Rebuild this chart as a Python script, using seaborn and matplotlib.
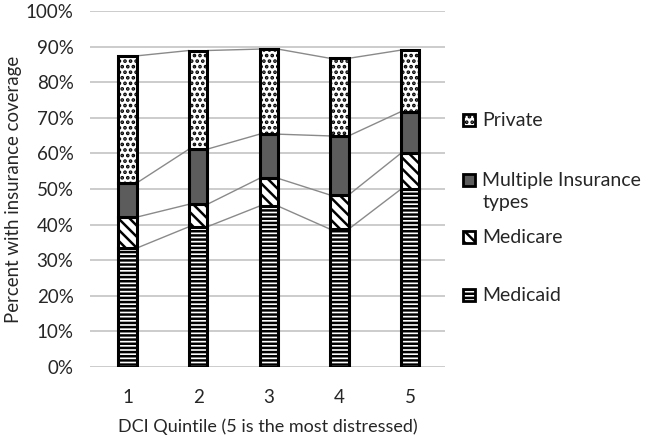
import matplotlib
matplotlib.use("Agg")
import matplotlib.pyplot as plt
from matplotlib.patches import Rectangle
import numpy as np
import pandas as pd
import seaborn as sns

# Data (percent of patients)
quintiles = ["1", "2", "3", "4", "5"]
medicaid = [33.4, 39.4, 45.2, 38.7, 49.9]
medicare = [8.7, 6.3, 7.8, 9.6, 10.1]
multiple = [9.6, 15.5, 12.4, 16.6, 11.7]
private = [35.7, 27.7, 23.9, 21.8, 17.3]

series_names = ["Medicaid", "Medicare", "Multiple Insurance\ntypes", "Private"]
series_values = [medicaid, medicare, multiple, private]
hatches = ["----", "\\\\\\", None, "..."]
fills = ["white", "white", "#5c5c5c", "white"]

sns.set_style("white")
plt.rcParams["font.family"] = ["Lato", "DejaVu Sans"]
plt.rcParams["hatch.linewidth"] = 1.8

text_color = "#262626"

fig = plt.figure(figsize=(6.49, 4.40), dpi=100)
ax = fig.add_axes([0.139, 0.166, 0.547, 0.809])

bar_w = 0.26
bottom = np.zeros(len(quintiles))
tops = []
for name, vals, hatch, fc in zip(series_names, series_values, hatches, fills):
    df = pd.DataFrame({"q": quintiles, "v": vals})
    sns.barplot(data=df, x="q", y="v", bottom=bottom, width=bar_w, color=fc,
                saturation=1, edgecolor="black", linewidth=2.2, hatch=hatch,
                ax=ax, zorder=3)
    bottom = bottom + np.array(vals)
    tops.append(bottom.copy())

# Series lines between bar tops
for top in tops:
    for i in range(len(quintiles) - 1):
        ax.plot([i + bar_w / 2, i + 1 - bar_w / 2], [top[i], top[i + 1]],
                color="#8a8a8a", linewidth=1.0, zorder=2)

ax.set_ylim(0, 100)
ax.set_xlim(-0.53, 4.5)
ax.set_yticks(np.arange(0, 101, 10))
ax.set_yticklabels([f"{t}%" for t in range(0, 101, 10)])
ax.yaxis.grid(True, color="#c4c4c4", linewidth=1.2, zorder=0)
ax.set_axisbelow(True)
sns.despine(ax=ax, left=True, bottom=True)
ax.tick_params(axis="both", length=0, labelsize=13.5, colors=text_color)
ax.tick_params(axis="x", pad=16)
ax.tick_params(axis="y", pad=12)
ax.set_xlabel("DCI Quintile (5 is the most distressed)", fontsize=13,
              color=text_color, labelpad=9)
ax.set_ylabel("Percent with insurance coverage", fontsize=13.4,
              color=text_color, labelpad=3)

# Legend drawn by hand to mimic the Excel layout
legend_items = [("Private", 3, 0.727), ("Multiple Insurance\ntypes", 2, 0.591),
                ("Medicare", 1, 0.461), ("Medicaid", 0, 0.329)]
for label, idx, ypos in legend_items:
    fig.patches.append(Rectangle((0.713, ypos - 0.014), 0.019, 0.028,
                                 transform=fig.transFigure, facecolor=fills[idx],
                                 edgecolor="black", linewidth=2.0,
                                 hatch=hatches[idx]))
    fig.text(0.743, ypos + 0.019, label, fontsize=14, color=text_color,
             va="top", ha="left", linespacing=1.35)

fig.savefig("out.png", dpi=100)
